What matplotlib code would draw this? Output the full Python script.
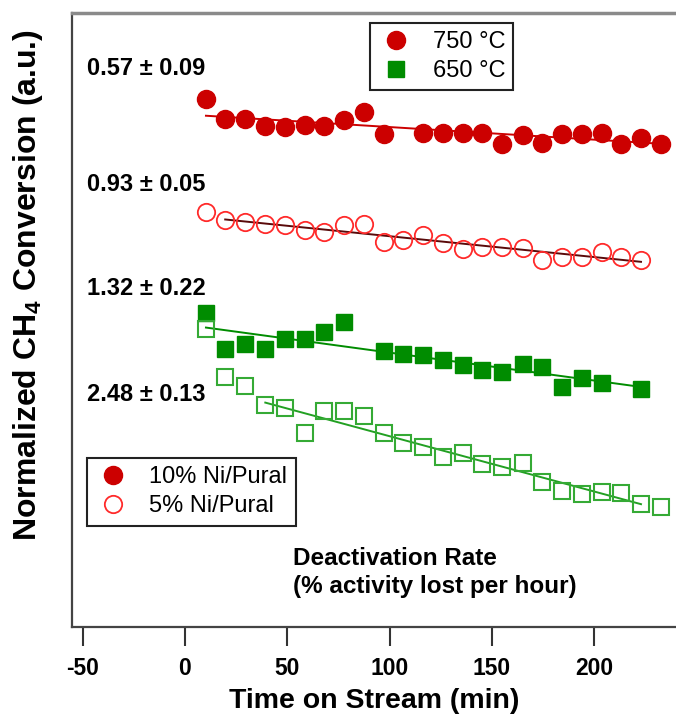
import numpy as np
import matplotlib
matplotlib.use('Agg')
import matplotlib.pyplot as plt
from matplotlib.lines import Line2D

plt.rcParams['font.family'] = ['Liberation Sans', 'DejaVu Sans']
plt.rcParams['mathtext.fontset'] = 'custom'
plt.rcParams['mathtext.rm'] = 'Liberation Sans'
plt.rcParams['mathtext.bf'] = 'Liberation Sans:bold'
plt.rcParams['mathtext.default'] = 'bf'
plt.rcParams['axes.unicode_minus'] = False

# time on stream (min) and normalized conversion (a.u., arbitrary scale)
t_750_10 = [10.3, 19.7, 29.5, 39.3, 49.1, 58.8, 68.1, 77.9, 87.3, 97.1, 116.6, 126.1,
            135.9, 145.2, 154.9, 165.0, 174.5, 184.4, 194.0, 203.6, 213.2, 222.9, 232.6]
y_750_10 = [86.0, 82.7, 82.7, 81.6, 81.5, 81.8, 81.6, 82.6, 83.9, 80.3, 80.4, 80.4,
            80.5, 80.5, 78.7, 80.1, 78.9, 80.3, 80.3, 80.4, 78.7, 79.6, 78.7]

t_750_5 = [10.3, 19.7, 29.5, 39.3, 49.1, 58.8, 68.1, 77.9, 87.3, 97.1, 106.8, 116.6,
           126.1, 135.9, 145.2, 154.9, 165.0, 174.5, 184.4, 194.0, 203.6, 213.2, 222.9]
y_750_5 = [67.6, 66.3, 66.0, 65.6, 65.5, 64.7, 64.4, 65.5, 65.7, 62.7, 63.0, 63.8,
           62.6, 61.5, 61.8, 61.9, 61.7, 59.7, 60.3, 60.3, 61.1, 60.3, 59.7]

t_650_10 = [10.3, 19.7, 29.5, 39.3, 49.1, 58.8, 68.1, 77.9, 97.1, 106.8, 116.6,
            126.1, 135.9, 145.2, 154.9, 165.0, 174.5, 184.4, 194.0, 203.6, 222.9]
y_650_10 = [51.1, 45.2, 46.1, 45.2, 46.9, 46.9, 48.1, 49.7, 45.0, 44.4, 44.3,
            43.4, 42.7, 41.9, 41.5, 42.9, 42.3, 39.1, 40.5, 39.7, 38.7]

t_650_5 = [10.3, 19.7, 29.5, 39.3, 49.1, 58.8, 68.1, 77.9, 87.3, 97.1, 106.8, 116.6,
           126.1, 135.9, 145.2, 154.9, 165.0, 174.5, 184.4, 194.0, 203.6, 213.2, 222.9, 232.6]
y_650_5 = [48.5, 40.7, 39.3, 36.2, 35.6, 31.6, 35.1, 35.1, 34.3, 31.6, 29.9, 29.3,
           27.7, 28.4, 26.5, 26.1, 26.7, 23.6, 22.2, 21.7, 22.0, 21.8, 20.1, 19.6]

rates = ['0.57 \u00b1 0.09', '0.93 \u00b1 0.05', '1.32 \u00b1 0.22', '2.48 \u00b1 0.13']
rate_y = [91.0, 72.0, 55.2, 37.8]

RED = '#cc0000'
RED_OPEN = '#ff2a2a'
GREEN = '#008c00'
GREEN_OPEN = '#35aa35'

fig = plt.figure(figsize=(6.76, 7.19), dpi=100)
ax = fig.add_axes([0.107, 0.128, 0.893, 0.854])

series = [
    (t_750_10, y_750_10, 0, None, dict(marker='o', ms=13, color=RED), RED),
    (t_750_5, y_750_5, 1, None, dict(marker='o', ms=12.5, mfc='none', mec=RED_OPEN, mew=1.3), '#5a0a0a'),
    (t_650_10, y_650_10, 0, None, dict(marker='s', ms=11.5, color=GREEN), GREEN),
    (t_650_5, y_650_5, 3, -1, dict(marker='s', ms=11.5, mfc='none', mec=GREEN_OPEN, mew=1.5), '#22a022'),
]

for t, y, i0, i1, style, lc in series:
    t = np.array(t)
    y = np.array(y)
    tf, yf = t[i0:i1], y[i0:i1]
    k, b = np.polyfit(tf, yf, 1)
    xs = np.array([tf[0], tf[-1]])
    ax.plot(xs, k * xs + b, color=lc, lw=1.4, zorder=1)
    ax.plot(t, y, ls='none', zorder=2, **style)

for txt, yy in zip(rates, rate_y):
    ax.text(-48, yy, txt, fontsize=17, fontweight='bold', ha='left', va='center')

ax.text(53, 11.2, 'Deactivation Rate', fontsize=17.5, fontweight='bold', ha='left', va='center')
ax.text(53, 6.6, '(% activity lost per hour)', fontsize=17.5, fontweight='bold', ha='left', va='center')

legend_kw = dict(loc='upper left', fontsize=17, fancybox=False, edgecolor='#222222', framealpha=1,
                 borderpad=0.35, handletextpad=0.8, labelspacing=0.3, handlelength=1.5,
                 borderaxespad=0)

h1 = [Line2D([], [], ls='none', marker='o', ms=13, color=RED),
      Line2D([], [], ls='none', marker='s', ms=11.5, color=GREEN)]
leg1 = ax.legend(h1, ['750 \u00b0C', '650 \u00b0C'], bbox_to_anchor=(0.493, 0.984), **legend_kw)
leg1.get_frame().set_linewidth(1.5)
ax.add_artist(leg1)

h2 = [Line2D([], [], ls='none', marker='o', ms=13, color=RED),
      Line2D([], [], ls='none', marker='o', ms=12.5, mfc='none', mec=RED_OPEN, mew=1.3)]
leg2 = ax.legend(h2, ['10% Ni/Pural', '5% Ni/Pural'], bbox_to_anchor=(0.024, 0.275), **legend_kw)
leg2.get_frame().set_linewidth(1.5)

ax.set_xlim(-55, 240)
ax.set_ylim(0, 100)
ax.set_xticks([-50, 0, 50, 100, 150, 200])
ax.set_yticks([])
ax.tick_params(axis='x', direction='out', length=13.7, width=1.5, color='#333333',
               labelsize=16.5, pad=8)
for lbl in ax.get_xticklabels():
    lbl.set_fontweight('bold')

ax.spines['right'].set_visible(False)
ax.spines['top'].set_color('#8a8a8a')
ax.spines['top'].set_linewidth(2.5)
for s in ['left', 'bottom']:
    ax.spines[s].set_color('#444444')
    ax.spines[s].set_linewidth(1.6)

ax.set_xlabel('Time on Stream (min)', fontsize=20.5, fontweight='bold', labelpad=6)
ax.set_ylabel('Normalized CH$_4$ Conversion (a.u.)', fontsize=23, fontweight='bold')
ax.yaxis.set_label_coords(-0.045, 0.557)

fig.savefig('out.png', dpi=100)
